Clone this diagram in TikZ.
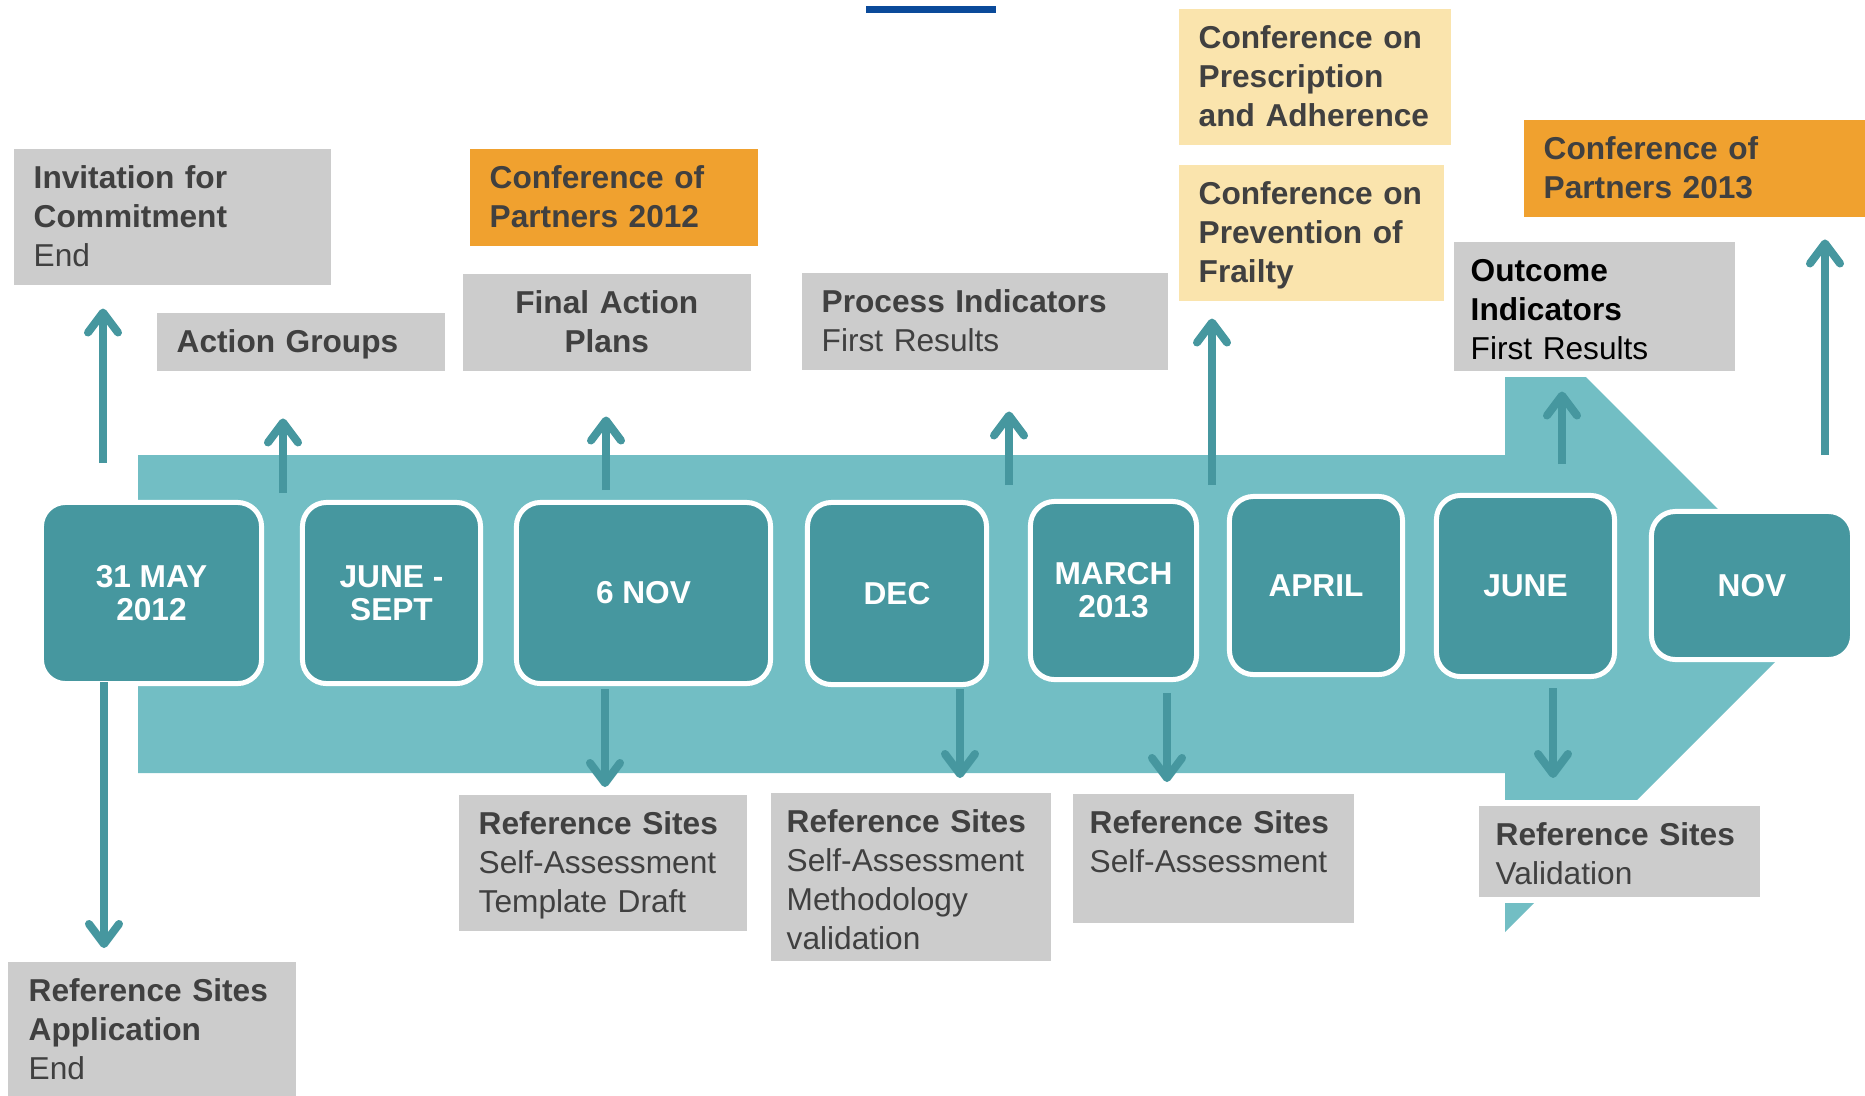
\documentclass[tikz,border=0pt]{standalone}
\usepackage{fontspec}
\setmainfont{Liberation Sans}
\usetikzlibrary{arrows.meta}

\definecolor{arrowteal}{HTML}{72BEC4}
\definecolor{dateteal}{HTML}{46979F}
\definecolor{boxgrey}{HTML}{CCCCCC}
\definecolor{confor}{HTML}{F0A12F}
\definecolor{confyel}{HTML}{FAE4AD}
\definecolor{txtgrey}{HTML}{404040}
\definecolor{topblue}{HTML}{0A4A9A}

\tikzset{
  infobox/.style={fill=boxgrey, preaction={draw=white, line width=0.12cm},
    anchor=north west, inner xsep=0.2cm, inner ysep=0pt, align=left,
    text=txtgrey, text height=0.40cm, font=\fontsize{9}{11.1}\selectfont},
  datebox/.style={fill=dateteal, draw=white, line width=0.05cm,
    rounded corners=0.24cm, text=white, align=center,
    font=\bfseries\fontsize{9}{9.4}\selectfont},
  tlarrow/.style={draw=dateteal, line width=0.08cm,
    -{Straight Barb[length=0.2cm,width=0.3cm,round]}}
}

\begin{document}
\begin{tikzpicture}[x=0.01cm, y=-0.01cm]
    \useasboundingbox (0,0) rectangle (1865,1096);
    \fill[topblue] (866,6) rectangle (996,13);
    % timeline arrow
    \fill[arrowteal] (138,455) -- (1505,455) -- (1505,377) -- (1586,377)
      -- (1823,614) -- (1505,932) -- (1505,773) -- (138,773) -- cycle;

    % boxes above
    \node (invite) [infobox, text width=2.77cm, text depth=0.96cm] at (13,148)
{\textbf{Invitation for}\\\textbf{Commitment}\\End};
    \node (groups) [infobox, text width=2.48cm, text depth=0.18cm] at (156,312)
{\textbf{Action Groups}};
    \node (partners12) [infobox, fill=confor, text width=2.48cm, text depth=0.57cm] at (469,148)
{\textbf{Conference of}\\\textbf{Partners 2012}};
    \node (finalplans) [infobox, align=center, text width=2.48cm, text depth=0.57cm] at (462,273)
{\textbf{Final Action}\\\textbf{Plans}};
    \node (procind) [infobox, text width=3.26cm, text depth=0.57cm] at (801,272)
{\textbf{Process Indicators}\\First Results};
    \node (prescr) [infobox, fill=confyel, text width=2.32cm, text depth=0.96cm] at (1178,8)
{\textbf{Conference on}\\\textbf{Prescription}\\\textbf{and Adherence}};
    \node (frailty) [infobox, fill=confyel, text width=2.25cm, text depth=0.96cm] at (1178,164)
{\textbf{Conference on}\\\textbf{Prevention of}\\\textbf{Frailty}};
    \node (partners13) [infobox, fill=confor, text width=3.02cm, text depth=0.57cm] at (1523,119)
{\textbf{Conference of}\\\textbf{Partners 2013}};
    \node (outcome) [infobox, text=black, inner xsep=0.17cm, text width=2.47cm, text depth=0.89cm] at (1453,241)
{\textbf{Outcome}\\\textbf{Indicators}\\First Results};

    % boxes below
    \node (application) [infobox, inner xsep=0.21cm, text width=2.46cm, text depth=0.95cm] at (7,961)
{\textbf{Reference Sites}\\\textbf{Application}\\End};
    \node (template) [infobox, text width=2.48cm, text depth=0.96cm] at (458,794)
{\textbf{Reference Sites}\\Self-Assessment\\Template Draft};
    \node (method) [infobox, inner xsep=0.16cm, text width=2.48cm, text depth=1.28cm] at (770,792)
{\textbf{Reference Sites}\\Self-Assessment\\Methodology\\validation};
    \node (selfassess) [infobox, inner xsep=0.17cm, text width=2.47cm, text depth=0.89cm] at (1072,793)
{\textbf{Reference Sites}\\Self-Assessment};
    \node (validation) [infobox, inner xsep=0.17cm, text width=2.47cm, text depth=0.51cm] at (1478,805)
{\textbf{Reference Sites}\\Validation};

    % dates
    \node (may) [datebox, minimum width=2.20cm, minimum height=1.81cm] at (151.5,593) {31 MAY\\2012};
    \node (junesept) [datebox, minimum width=1.78cm, minimum height=1.81cm] at (391.5,593) {JUNE -\\SEPT};
    \node (nov6) [datebox, minimum width=2.54cm, minimum height=1.81cm] at (643.5,593) {6 NOV};
    \node (dec) [datebox, minimum width=1.79cm, minimum height=1.82cm] at (897,593.5) {DEC};
    \node (march) [datebox, minimum width=1.66cm, minimum height=1.78cm] at (1113.5,590.5) {MARCH\\2013};
    \node (april) [datebox, minimum width=1.73cm, minimum height=1.78cm] at (1316,585.5) {APRIL};
    \node (june) [datebox, minimum width=1.78cm, minimum height=1.81cm] at (1525.5,586) {JUNE};
    \node (nov) [datebox, minimum width=2.01cm, minimum height=1.48cm] at (1752,585.5) {NOV};

    % arrow tails
    \coordinate (u1) at (103,463);
    \coordinate (u2) at (283,493);
    \coordinate (u3) at (606,490);
    \coordinate (u4) at (1009,485);
    \coordinate (u5) at (1212,485);
    \coordinate (u6) at (1562,464);
    \coordinate (u7) at (1825,455);
    \coordinate (d1) at (104,682);
    \coordinate (d2) at (605,689);
    \coordinate (d3) at (960,689);
    \coordinate (d4) at (1167,693);
    \coordinate (d5) at (1553,688);

    \foreach \c/\t/\g in {u1/invite/0.23cm, u2/groups/0.47cm, u3/finalplans/0.45cm,
        u4/procind/0.41cm, u5/frailty/0.17cm, u6/outcome/0.20cm, u7/partners13/0.22cm}
      \draw[tlarrow, shorten >=\g] (\c) -- (\c |- \t.south);
    \foreach \c/\t/\g in {d1/application/0.13cm, d2/template/0.07cm, d3/method/0.14cm,
        d4/selfassess/0.11cm, d5/validation/0.27cm}
      \draw[tlarrow, shorten >=\g] (\c) -- (\c |- \t.north);
\end{tikzpicture}
\end{document}
